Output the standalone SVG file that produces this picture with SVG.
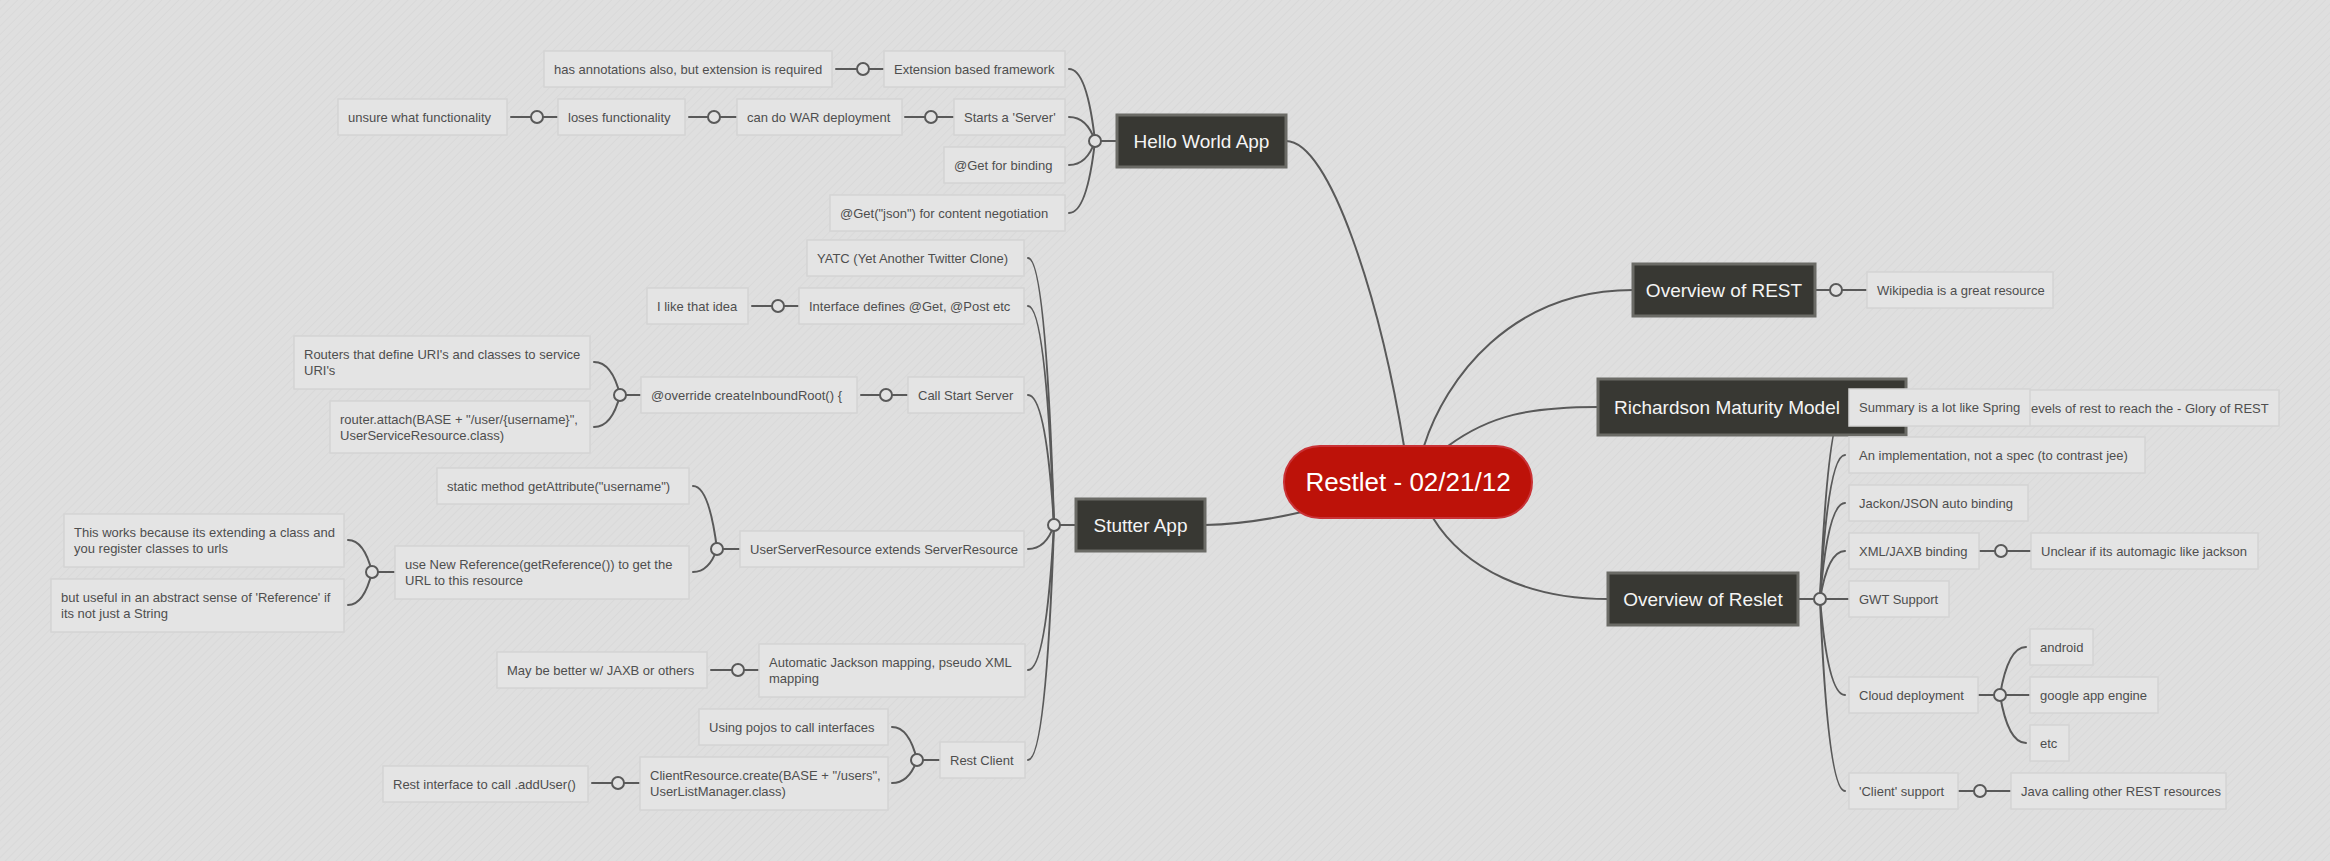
<svg xmlns="http://www.w3.org/2000/svg" width="2330" height="861" viewBox="0 0 2330 861">
<defs>
<pattern id="bgp" width="6" height="6" patternUnits="userSpaceOnUse" patternTransform="rotate(45)">
<rect width="6" height="6" fill="#dfdfdf"/>
<line x1="0" y1="0" x2="0" y2="6" stroke="#d7d7d7" stroke-width="1.5"/>
</pattern>
<style>
.conn path{fill:none;stroke:#595959;stroke-width:2;stroke-linecap:round}
.hub{fill:#e2e2e2;stroke:#595959;stroke-width:2}
.leaf rect{fill:#e4e4e4;stroke:#d4d4d4;stroke-width:1.5}
.leaf text{font-family:"Liberation Sans",Arial,sans-serif;font-size:13px;fill:#4e4e4e}
.topic rect{fill:#383833;stroke:#6b6b66;stroke-width:3}
.topic text{font-family:"Liberation Sans",Arial,sans-serif;font-size:19px;fill:#f4f4f4;text-anchor:middle}
.center rect{fill:#bd1209;stroke:#c93236;stroke-width:2}
.center text{font-family:"Liberation Sans",Arial,sans-serif;font-size:26px;fill:#ffffff;text-anchor:middle}
</style>
</defs>
<rect width="2330" height="861" fill="url(#bgp)"/>

<g id="connectors" class="conn">
<path d="M1286 141 C1330 141 1380 300 1404 446"/>
<path d="M1424 446 C1445 380 1510 290 1633 290"/>
<path d="M1448 446 C1490 415 1530 407 1598 407"/>
<path d="M1433 518 C1465 570 1530 599 1608 599"/>
<path d="M1205 525 Q1250 524 1302 512"/>
<path d="M1095 141 H1117"/>
<path d="M1095 141 Q1087 69 1069 69"/>
<path d="M1095 141 Q1087 117 1069 117"/>
<path d="M1095 141 Q1087 165 1069 165"/>
<path d="M1095 141 Q1087 213 1069 213"/>
<path d="M836 69 H884"/>
<path d="M905 117 H954"/>
<path d="M689 117 H737"/>
<path d="M511 117 H558"/>
<path d="M1054 525 H1076"/>
<path d="M1054 525 Q1046 258 1028 258"/>
<path d="M1054 525 Q1046 306 1028 306"/>
<path d="M1054 525 Q1046 395 1028 395"/>
<path d="M1054 525 Q1046 549 1028 549"/>
<path d="M1054 525 Q1046 670 1028 670"/>
<path d="M1054 525 Q1046 760 1028 760"/>
<path d="M752 306 H799"/>
<path d="M861 395 H908"/>
<path d="M620 395 H641"/>
<path d="M620 395 Q612 362 594 362"/>
<path d="M620 395 Q612 427 594 427"/>
<path d="M717 549 H740"/>
<path d="M717 549 Q709 486 693 486"/>
<path d="M717 549 Q709 572 693 572"/>
<path d="M372 572 H395"/>
<path d="M372 572 Q364 540 348 540"/>
<path d="M372 572 Q364 605 348 605"/>
<path d="M711 670 H759"/>
<path d="M917 760 H940"/>
<path d="M917 760 Q909 727 892 727"/>
<path d="M917 760 Q909 783 892 783"/>
<path d="M592 783 H640"/>
<path d="M1815 290 H1867"/>
<path d="M1906 407 H1958"/>
<path d="M1798 599 H1820"/>
<path d="M1820 599 Q1828 407 1845 407"/>
<path d="M1820 599 Q1828 455 1845 455"/>
<path d="M1820 599 Q1828 503 1845 503"/>
<path d="M1820 599 Q1828 551 1845 551"/>
<path d="M1820 599 H1849"/>
<path d="M1820 599 Q1828 695 1845 695"/>
<path d="M1820 599 Q1828 791 1845 791"/>
<path d="M1979 551 H2031"/>
<path d="M1978 695 H2030"/>
<path d="M2000 695 Q2008 647 2026 647"/>
<path d="M2000 695 Q2008 743 2026 743"/>
<path d="M1958 791 H2011"/>
<circle class="hub" cx="1095" cy="141" r="6"/>
<circle class="hub" cx="863" cy="69" r="6"/>
<circle class="hub" cx="931" cy="117" r="6"/>
<circle class="hub" cx="714" cy="117" r="6"/>
<circle class="hub" cx="537" cy="117" r="6"/>
<circle class="hub" cx="1054" cy="525" r="6"/>
<circle class="hub" cx="778" cy="306" r="6"/>
<circle class="hub" cx="886" cy="395" r="6"/>
<circle class="hub" cx="620" cy="395" r="6"/>
<circle class="hub" cx="717" cy="549" r="6"/>
<circle class="hub" cx="372" cy="572" r="6"/>
<circle class="hub" cx="738" cy="670" r="6"/>
<circle class="hub" cx="917" cy="760" r="6"/>
<circle class="hub" cx="618" cy="783" r="6"/>
<circle class="hub" cx="1836" cy="290" r="6"/>
<circle class="hub" cx="1820" cy="599" r="6"/>
<circle class="hub" cx="2001" cy="551" r="6"/>
<circle class="hub" cx="2000" cy="695" r="6"/>
<circle class="hub" cx="1980" cy="791" r="6"/>
</g>

<g id="center" class="center"><rect x="1284" y="446" width="248" height="72" rx="36"/><text x="1408" y="491">Restlet - 02/21/12</text></g>

<g id="hello-world" class="topic"><rect x="1117" y="115" width="169" height="52"/><text x="1201.5" y="147.5">Hello World App</text></g>
<g id="stutter" class="topic"><rect x="1076" y="499" width="129" height="52"/><text x="1140.5" y="531.5">Stutter App</text></g>
<g id="overview-rest" class="topic"><rect x="1633" y="264" width="182" height="52"/><text x="1724" y="296.5">Overview of REST</text></g>
<g id="richardson" class="topic"><rect x="1598" y="379" width="308" height="56"/><text x="1614" y="413.5" style="text-anchor:start">Richardson Maturity Model</text></g>
<g id="overview-reslet" class="topic"><rect x="1608" y="573" width="190" height="52"/><text x="1703" y="605.5">Overview of Reslet</text></g>

<g id="n-has-annotations" class="leaf"><rect x="544" y="51" width="288" height="36"/><text x="554" y="73.5">has annotations also, but extension is required</text></g>
<g id="n-extension" class="leaf"><rect x="884" y="51" width="181" height="36"/><text x="894" y="73.5">Extension based framework</text></g>
<g id="n-starts-server" class="leaf"><rect x="954" y="99" width="111" height="36"/><text x="964" y="121.5">Starts a 'Server'</text></g>
<g id="n-war" class="leaf"><rect x="737" y="99" width="165" height="36"/><text x="747" y="121.5">can do WAR deployment</text></g>
<g id="n-loses" class="leaf"><rect x="558" y="99" width="127" height="36"/><text x="568" y="121.5">loses functionality</text></g>
<g id="n-unsure" class="leaf"><rect x="338" y="99" width="169" height="36"/><text x="348" y="121.5">unsure what functionality</text></g>
<g id="n-get-binding" class="leaf"><rect x="944" y="147" width="121" height="36"/><text x="954" y="169.5">@Get for binding</text></g>
<g id="n-get-json" class="leaf"><rect x="830" y="195" width="235" height="36"/><text x="840" y="217.5">@Get("json") for content negotiation</text></g>

<g id="n-yatc" class="leaf"><rect x="807" y="240" width="217" height="36"/><text x="817" y="262.5">YATC (Yet Another Twitter Clone)</text></g>
<g id="n-interface" class="leaf"><rect x="799" y="288" width="225" height="36"/><text x="809" y="310.5">Interface defines @Get, @Post etc</text></g>
<g id="n-like-idea" class="leaf"><rect x="647" y="288" width="101" height="36"/><text x="657" y="310.5">I like that idea</text></g>
<g id="n-call-start" class="leaf"><rect x="908" y="377" width="116" height="36"/><text x="918" y="399.5">Call Start Server</text></g>
<g id="n-override" class="leaf"><rect x="641" y="377" width="216" height="36"/><text x="651" y="399.5">@override createInboundRoot() {</text></g>
<g id="n-routers" class="leaf"><rect x="294" y="336" width="296" height="53"/><text x="304" y="359"><tspan x="304">Routers that define URI's and classes to service</tspan><tspan x="304" dy="16">URI's</tspan></text></g>
<g id="n-router-attach" class="leaf"><rect x="330" y="401" width="260" height="52"/><text x="340" y="424"><tspan x="340">router.attach(BASE + "/user/{username}",</tspan><tspan x="340" dy="16">UserServiceResource.class)</tspan></text></g>
<g id="n-user-server-resource" class="leaf"><rect x="740" y="531" width="284" height="36"/><text x="750" y="553.5">UserServerResource extends ServerResource</text></g>
<g id="n-static-method" class="leaf"><rect x="437" y="468" width="252" height="36"/><text x="447" y="490.5">static method getAttribute("username")</text></g>
<g id="n-use-new-ref" class="leaf"><rect x="395" y="546" width="294" height="53"/><text x="405" y="569"><tspan x="405">use New Reference(getReference()) to get the</tspan><tspan x="405" dy="16">URL to this resource</tspan></text></g>
<g id="n-this-works" class="leaf"><rect x="64" y="514" width="280" height="53"/><text x="74" y="537"><tspan x="74">This works because its extending a class and</tspan><tspan x="74" dy="16">you register classes to urls</tspan></text></g>
<g id="n-but-useful" class="leaf"><rect x="51" y="579" width="293" height="53"/><text x="61" y="602"><tspan x="61">but useful in an abstract sense of 'Reference' if</tspan><tspan x="61" dy="16">its not just a String</tspan></text></g>
<g id="n-auto-jackson" class="leaf"><rect x="759" y="644" width="266" height="53"/><text x="769" y="667"><tspan x="769">Automatic Jackson mapping, pseudo XML</tspan><tspan x="769" dy="16">mapping</tspan></text></g>
<g id="n-may-be-better" class="leaf"><rect x="497" y="652" width="210" height="36"/><text x="507" y="674.5">May be better w/ JAXB or others</text></g>
<g id="n-rest-client" class="leaf"><rect x="940" y="742" width="85" height="36"/><text x="950" y="764.5">Rest Client</text></g>
<g id="n-pojos" class="leaf"><rect x="699" y="709" width="189" height="36"/><text x="709" y="731.5">Using pojos to call interfaces</text></g>
<g id="n-client-resource" class="leaf"><rect x="640" y="757" width="248" height="53"/><text x="650" y="780"><tspan x="650">ClientResource.create(BASE + "/users",</tspan><tspan x="650" dy="16">UserListManager.class)</tspan></text></g>
<g id="n-rest-interface" class="leaf"><rect x="383" y="766" width="205" height="36"/><text x="393" y="788.5">Rest interface to call .addUser()</text></g>

<g id="n-wikipedia" class="leaf"><rect x="1867" y="272" width="186" height="36"/><text x="1877" y="294.5">Wikipedia is a great resource</text></g>
<g id="n-levels" class="leaf"><rect x="1958" y="390" width="321" height="36"/><text x="2031" y="412.5">evels of rest to reach the - Glory of REST</text></g>
<g id="n-summary" class="leaf"><rect x="1849" y="389" width="181" height="37"/><text x="1859" y="412">Summary is a lot like Spring</text></g>
<g id="n-implementation" class="leaf"><rect x="1849" y="437" width="296" height="36"/><text x="1859" y="459.5">An implementation, not a spec (to contrast jee)</text></g>
<g id="n-jackon" class="leaf"><rect x="1849" y="485" width="179" height="36"/><text x="1859" y="507.5">Jackon/JSON auto binding</text></g>
<g id="n-xml-jaxb" class="leaf"><rect x="1849" y="533" width="130" height="36"/><text x="1859" y="555.5">XML/JAXB binding</text></g>
<g id="n-unclear" class="leaf"><rect x="2031" y="533" width="227" height="36"/><text x="2041" y="555.5">Unclear if its automagic like jackson</text></g>
<g id="n-gwt" class="leaf"><rect x="1849" y="581" width="100" height="36"/><text x="1859" y="603.5">GWT Support</text></g>
<g id="n-cloud" class="leaf"><rect x="1849" y="677" width="129" height="36"/><text x="1859" y="699.5">Cloud deployment</text></g>
<g id="n-android" class="leaf"><rect x="2030" y="629" width="63" height="36"/><text x="2040" y="651.5">android</text></g>
<g id="n-google" class="leaf"><rect x="2030" y="677" width="128" height="36"/><text x="2040" y="699.5">google app engine</text></g>
<g id="n-etc" class="leaf"><rect x="2030" y="725" width="39" height="36"/><text x="2040" y="747.5">etc</text></g>
<g id="n-client-support" class="leaf"><rect x="1849" y="773" width="109" height="36"/><text x="1859" y="795.5">'Client' support</text></g>
<g id="n-java-calling" class="leaf"><rect x="2011" y="773" width="215" height="36"/><text x="2021" y="795.5">Java calling other REST resources</text></g>
</svg>
